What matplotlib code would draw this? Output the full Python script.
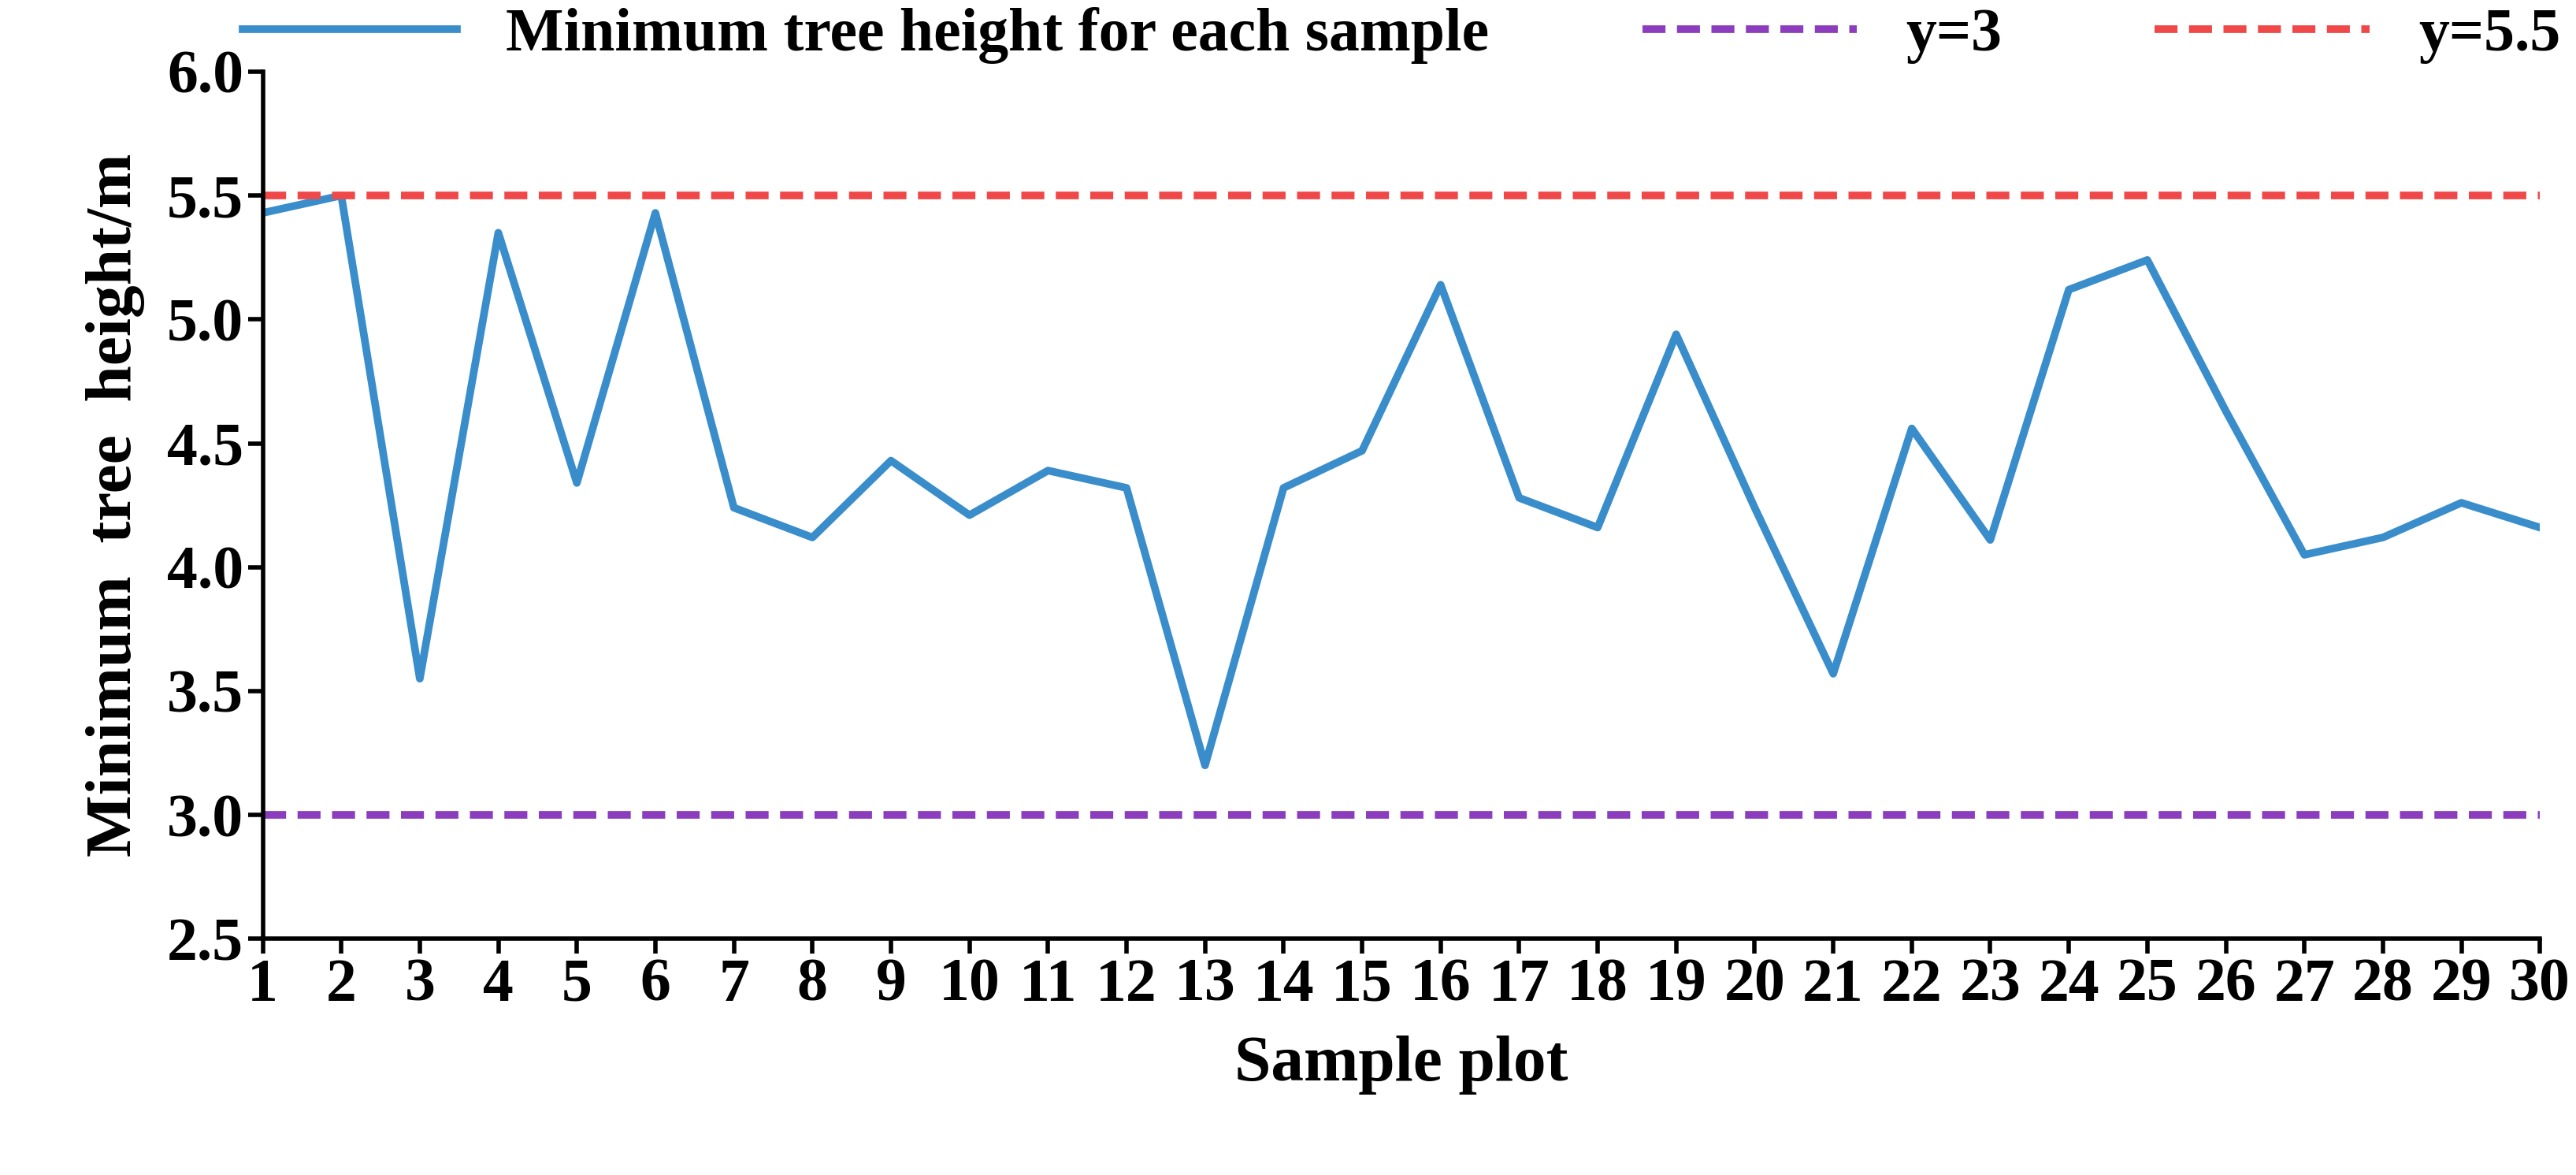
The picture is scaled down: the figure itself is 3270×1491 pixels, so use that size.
import matplotlib
matplotlib.use("Agg")
import matplotlib.pyplot as plt

plots = list(range(1, 31))
min_height = [5.43, 5.50, 3.55, 5.35, 4.34, 5.43, 4.24, 4.12, 4.43, 4.21,
              4.39, 4.32, 3.20, 4.32, 4.47, 5.14, 4.28, 4.16, 4.94, 4.24,
              3.57, 4.56, 4.11, 5.12, 5.24, 4.63, 4.05, 4.12, 4.26, 4.16]
low_line = 3
high_line = 5.5

plt.rcParams["font.family"] = ["Liberation Serif", "DejaVu Serif"]
plt.rcParams["font.weight"] = "bold"

fig = plt.figure(figsize=(32.7, 14.91), dpi=100)
ax = fig.add_axes([0.102, 0.201, 0.884, 0.738])
ax.plot(plots, min_height, color="#3A8DCB", lw=7, label="Minimum tree height for each sample")
ax.axhline(low_line, color="#8B3DBD", lw=7, ls=(0, (3, 1.5)), label="y=3")
ax.axhline(high_line, color="#F04848", lw=7, ls=(0, (3, 1.5)), label="y=5.5")

ax.set_xlim(1, 30)
ax.set_ylim(2.5, 6.0)
ax.set_xticks(plots)
ax.set_yticks([2.5, 3.0, 3.5, 4.0, 4.5, 5.0, 5.5, 6.0])
ax.set_yticklabels([f"{v:.1f}" for v in ax.get_yticks()])
ax.tick_params(labelsize=56, width=4, length=14, direction="out")
for s in ["top", "right"]:
    ax.spines[s].set_visible(False)
for s in ["left", "bottom"]:
    ax.spines[s].set_linewidth(4)
ax.set_xlabel("Sample plot", fontsize=60, fontweight="bold", labelpad=20)
ax.set_ylabel("Minimum  tree  height/m", fontsize=60, fontweight="bold", labelpad=20)
ax.legend(loc="lower center", bbox_to_anchor=(0.5, 0.945), ncol=3, frameon=False,
          fontsize=56, handlelength=3.5, columnspacing=2.5)
fig.savefig("out.png", dpi=100)
